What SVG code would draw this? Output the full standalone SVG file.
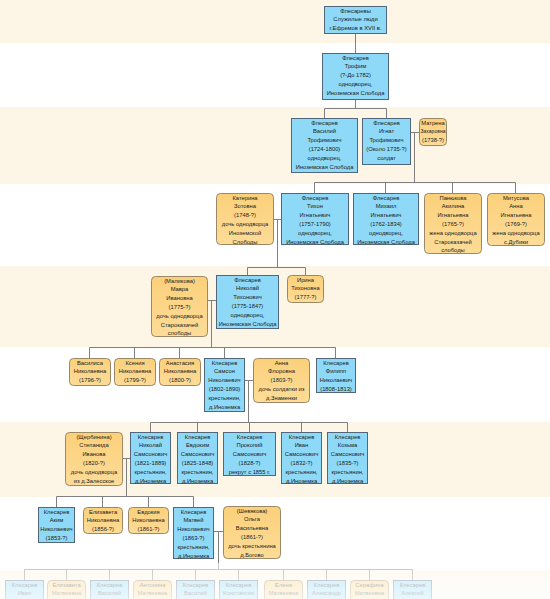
<svg xmlns="http://www.w3.org/2000/svg" width="550" height="599" viewBox="0 0 550 599">
<style>
.band{fill:#fdf5e6}
.b{fill:#8dd9f7;stroke:#52687a;stroke-width:1}
.o{fill:url(#og);stroke:#9a8866;stroke-width:1}
.t{font-family:"Liberation Sans",Arial,sans-serif;font-size:5.8px;fill:#222;text-anchor:middle}
.c{fill:none;stroke:#808080;stroke-width:1}
</style>
<defs>
<linearGradient id="og" x1="0" y1="0" x2="0" y2="1">
<stop offset="0" stop-color="#fbd07a"/>
<stop offset="1" stop-color="#fddc98"/>
</linearGradient>
<linearGradient id="fade" x1="0" y1="0" x2="0" y2="1">
<stop offset="0" stop-color="#fff" stop-opacity="0.55"/>
<stop offset="1" stop-color="#fff" stop-opacity="0.8"/>
</linearGradient>
</defs>
<rect width="550" height="599" fill="#fff"/>
<rect class="band" x="0" y="0" width="550" height="43"/>
<rect class="band" x="0" y="107" width="550" height="77"/>
<rect class="band" x="0" y="266" width="550" height="81"/>
<rect class="band" x="0" y="422" width="550" height="75"/>
<rect class="band" x="0" y="570" width="550" height="29"/>

<g id="connectors">
<path class="c" d="M355.5 33V53 M355.5 99V108.5 M324.5 108.5H386.5 M324.5 108.5V118 M386.5 108.5V118"/>
<path class="c" d="M410 132.5H419 M414.5 132.5V182.5 M314.5 182.5H515.5 M314.5 182.5V193 M385.5 182.5V193 M452.5 182.5V193 M515.5 182.5V193"/>
<path class="c" d="M273 219.5H281 M277.5 219.5V267.5 M247.5 267.5H305.5 M247.5 267.5V275 M305.5 267.5V275"/>
<path class="c" d="M207 300.5H216 M211.5 300.5V347.5 M89.5 347.5H335.5 M89.5 347.5V358 M134.5 347.5V358 M179.5 347.5V358 M224.5 347.5V358 M335.5 347.5V358"/>
<path class="c" d="M244 380.5H253 M248.5 380.5V422.5 M150.5 422.5H347.5 M150.5 422.5V432 M197.5 422.5V432 M249.5 422.5V432 M301.5 422.5V432 M347.5 422.5V432"/>
<path class="c" d="M122 458.5H130 M126.5 458.5V496.5 M56.5 496.5H193.5 M56.5 496.5V507 M102.5 496.5V507 M148.5 496.5V507 M193.5 496.5V507"/>
<path class="c" d="M213 531.5H223 M218.5 531.5V569.5 M24.5 569.5H412.5 M24.5 569.5V580 M66.5 569.5V580 M109.5 569.5V580 M152.5 569.5V580 M195.5 569.5V580 M238.5 569.5V580 M283.5 569.5V580 M326.5 569.5V580 M369.5 569.5V580 M412.5 569.5V580"/>
</g>

<g id="n1"><rect class="b" x="324.5" y="6.5" width="62" height="27"/>
<text class="t" x="355.5" y="12.5">Флесаревы</text><text class="t" x="355.5" y="21.3">Служилые люди</text><text class="t" x="355.5" y="30.1">г.Ефремов в XVII в.</text></g>

<g id="n2"><rect class="b" x="322.5" y="53.5" width="66" height="46"/>
<text class="t" x="355.5" y="59.5">Флесарев</text><text class="t" x="355.5" y="68.3">Трофим</text><text class="t" x="355.5" y="77.1">(?-До 1782)</text><text class="t" x="355.5" y="85.9">однодворец,</text><text class="t" x="355.5" y="94.7">Иноземская Слобода</text></g>

<g id="n3"><rect class="b" x="291.5" y="118.5" width="66" height="54"/>
<text class="t" x="324.5" y="124.5">Флесарев</text><text class="t" x="324.5" y="133.3">Василий</text><text class="t" x="324.5" y="142.1">Трофимович</text><text class="t" x="324.5" y="150.9">(1724-1800)</text><text class="t" x="324.5" y="159.7">однодворец,</text><text class="t" x="324.5" y="168.5">Иноземская Слобода</text></g>

<g id="n4"><rect class="b" x="362.5" y="118.5" width="48" height="46"/>
<text class="t" x="386.5" y="124.5">Флесарев</text><text class="t" x="386.5" y="133.3">Игнат</text><text class="t" x="386.5" y="142.1">Трофимович</text><text class="t" x="386.5" y="150.9">(Около 1735-?)</text><text class="t" x="386.5" y="159.7">солдат</text></g>

<g id="n5"><rect class="o" x="419.5" y="118.5" width="27" height="27" rx="4"/>
<text class="t" x="433" y="124.5">Матрена</text><text class="t" x="433" y="133.3" textLength="25" lengthAdjust="spacingAndGlyphs">Захаровна</text><text class="t" x="433" y="142.1">(1738-?)</text></g>

<g id="n6"><rect class="o" x="216.5" y="193.5" width="57" height="51" rx="4"/>
<text class="t" x="245" y="199.5">Катерина</text><text class="t" x="245" y="208.3">Зотовна</text><text class="t" x="245" y="217.1">(1748-?)</text><text class="t" x="245" y="225.9">дочь однодворца</text><text class="t" x="245" y="234.7">Иноземской</text><text class="t" x="245" y="243.5">Слободы</text></g>

<g id="n7"><rect class="b" x="281.5" y="193.5" width="67" height="51"/>
<text class="t" x="315" y="199.5">Флесарев</text><text class="t" x="315" y="208.3">Тихон</text><text class="t" x="315" y="217.1">Игнатьевич</text><text class="t" x="315" y="225.9">(1757-1790)</text><text class="t" x="315" y="234.7">однодворец,</text><text class="t" x="315" y="243.5">Иноземская Слобода</text></g>

<g id="n8"><rect class="b" x="353.5" y="193.5" width="65" height="51"/>
<text class="t" x="386" y="199.5">Флесарев</text><text class="t" x="386" y="208.3">Михаил</text><text class="t" x="386" y="217.1">Игнатьевич</text><text class="t" x="386" y="225.9">(1762-1834)</text><text class="t" x="386" y="234.7">однодворец,</text><text class="t" x="386" y="243.5">Иноземская Слобода</text></g>

<g id="n9"><rect class="o" x="424.5" y="193.5" width="57" height="60" rx="4"/>
<text class="t" x="453" y="199.5">Панюкова</text><text class="t" x="453" y="208.3">Акилина</text><text class="t" x="453" y="217.1">Игнатьевна</text><text class="t" x="453" y="225.9">(1765-?)</text><text class="t" x="453" y="234.7">жена однодворца</text><text class="t" x="453" y="243.5">Староказачей</text><text class="t" x="453" y="252.3">слободы</text></g>

<g id="n10"><rect class="o" x="487.5" y="193.5" width="57" height="52" rx="4"/>
<text class="t" x="516" y="199.5">Митусова</text><text class="t" x="516" y="208.3">Анна</text><text class="t" x="516" y="217.1">Игнатьевна</text><text class="t" x="516" y="225.9">(1769-?)</text><text class="t" x="516" y="234.7">жена однодворца</text><text class="t" x="516" y="243.5">с.Дубики</text></g>

<g id="n11"><rect class="o" x="151.5" y="276.5" width="56" height="60" rx="4"/>
<text class="t" x="179.5" y="282.5">(Маликова)</text><text class="t" x="179.5" y="291.3">Мавра</text><text class="t" x="179.5" y="300.1">Ивановна</text><text class="t" x="179.5" y="308.9">(1775-?)</text><text class="t" x="179.5" y="317.7">дочь однодворца</text><text class="t" x="179.5" y="326.5">Староказачей</text><text class="t" x="179.5" y="335.3">слободы</text></g>

<g id="n12"><rect class="b" x="216.5" y="275.5" width="62" height="53"/>
<text class="t" x="247.5" y="281.5">Флесарев</text><text class="t" x="247.5" y="290.3">Николай</text><text class="t" x="247.5" y="299.1">Тихонович</text><text class="t" x="247.5" y="307.9">(1775-1847)</text><text class="t" x="247.5" y="316.7">однодворец,</text><text class="t" x="247.5" y="325.5">Иноземская Слобода</text></g>

<g id="n13"><rect class="o" x="287.5" y="275.5" width="36" height="27" rx="4"/>
<text class="t" x="305.5" y="281.5">Ирина</text><text class="t" x="305.5" y="290.3">Тихоновна</text><text class="t" x="305.5" y="299.1">(1777-?)</text></g>

<g id="n14"><rect class="o" x="69.5" y="358.5" width="41" height="27" rx="4"/>
<text class="t" x="90" y="364.5">Василиса</text><text class="t" x="90" y="373.3">Николаевна</text><text class="t" x="90" y="382.1">(1796-?)</text></g>

<g id="n15"><rect class="o" x="114.5" y="358.5" width="41" height="27" rx="4"/>
<text class="t" x="135" y="364.5">Ксения</text><text class="t" x="135" y="373.3">Николаевна</text><text class="t" x="135" y="382.1">(1799-?)</text></g>

<g id="n16"><rect class="o" x="159.5" y="358.5" width="41" height="27" rx="4"/>
<text class="t" x="180" y="364.5">Анастасия</text><text class="t" x="180" y="373.3">Николаевна</text><text class="t" x="180" y="382.1">(1800-?)</text></g>

<g id="n17"><rect class="b" x="204.5" y="358.5" width="40" height="53"/>
<text class="t" x="224.5" y="364.5">Клесарев</text><text class="t" x="224.5" y="373.3">Самсон</text><text class="t" x="224.5" y="382.1">Николаевич</text><text class="t" x="224.5" y="390.9">(1802-1890)</text><text class="t" x="224.5" y="399.7">крестьянин,</text><text class="t" x="224.5" y="408.5">д.Иноземка</text></g>

<g id="n18"><rect class="o" x="253.5" y="358.5" width="56" height="44" rx="4"/>
<text class="t" x="281.5" y="364.5">Анна</text><text class="t" x="281.5" y="373.3">Флоровна</text><text class="t" x="281.5" y="382.1">(1803-?)</text><text class="t" x="281.5" y="390.9">дочь солдатки из</text><text class="t" x="281.5" y="399.7">д.Знаменки</text></g>

<g id="n19"><rect class="b" x="316.5" y="358.5" width="39" height="34"/>
<text class="t" x="336" y="364.5">Клесарев</text><text class="t" x="336" y="373.3">Филипп</text><text class="t" x="336" y="382.1">Николаевич</text><text class="t" x="336" y="390.9">(1808-1813)</text></g>

<g id="n20"><rect class="o" x="65.5" y="432.5" width="57" height="53" rx="4"/>
<text class="t" x="94" y="438.5">(Щербинина)</text><text class="t" x="94" y="447.3">Степанида</text><text class="t" x="94" y="456.1">Иванова</text><text class="t" x="94" y="464.9">(1820-?)</text><text class="t" x="94" y="473.7">дочь однодворца</text><text class="t" x="94" y="482.5">из д.Залесское</text></g>

<g id="n21"><rect class="b" x="130.5" y="432.5" width="40" height="51"/>
<text class="t" x="150.5" y="438.5">Клесарев</text><text class="t" x="150.5" y="447.3">Николай</text><text class="t" x="150.5" y="456.1">Самсонович</text><text class="t" x="150.5" y="464.9">(1821-1889)</text><text class="t" x="150.5" y="473.7">крестьянин,</text><text class="t" x="150.5" y="482.5">д.Иноземка</text></g>

<g id="n22"><rect class="b" x="177.5" y="432.5" width="40" height="51"/>
<text class="t" x="197.5" y="438.5">Клесарев</text><text class="t" x="197.5" y="447.3">Евдоким</text><text class="t" x="197.5" y="456.1">Самсонович</text><text class="t" x="197.5" y="464.9">(1825-1848)</text><text class="t" x="197.5" y="473.7">крестьянин,</text><text class="t" x="197.5" y="482.5">д.Иноземка</text></g>

<g id="n23"><rect class="b" x="223.5" y="432.5" width="52" height="43"/>
<text class="t" x="249.5" y="438.5">Клесарев</text><text class="t" x="249.5" y="447.3">Прокопий</text><text class="t" x="249.5" y="456.1">Самсонович</text><text class="t" x="249.5" y="464.9">(1828-?)</text><text class="t" x="249.5" y="473.7">рекрут с 1855 г.</text></g>

<g id="n24"><rect class="b" x="281.5" y="432.5" width="40" height="51"/>
<text class="t" x="301.5" y="438.5">Клесарев</text><text class="t" x="301.5" y="447.3">Иван</text><text class="t" x="301.5" y="456.1">Самсонович</text><text class="t" x="301.5" y="464.9">(1832-?)</text><text class="t" x="301.5" y="473.7">крестьянин,</text><text class="t" x="301.5" y="482.5">д.Иноземка</text></g>

<g id="n25"><rect class="b" x="327.5" y="432.5" width="40" height="51"/>
<text class="t" x="347.5" y="438.5">Клесарев</text><text class="t" x="347.5" y="447.3">Козьма</text><text class="t" x="347.5" y="456.1">Самсонович</text><text class="t" x="347.5" y="464.9">(1835-?)</text><text class="t" x="347.5" y="473.7">крестьянин,</text><text class="t" x="347.5" y="482.5">д.Иноземка</text></g>

<g id="n26"><rect class="b" x="38.5" y="507.5" width="36" height="35"/>
<text class="t" x="56.5" y="513.5">Клесарев</text><text class="t" x="56.5" y="522.3">Аким</text><text class="t" x="56.5" y="531.1">Николаевич</text><text class="t" x="56.5" y="539.9">(1853-?)</text></g>

<g id="n27"><rect class="o" x="83.5" y="507.5" width="39" height="26" rx="4"/>
<text class="t" x="103" y="513.5">Елизавета</text><text class="t" x="103" y="522.3">Николаевна</text><text class="t" x="103" y="531.1">(1856-?)</text></g>

<g id="n28"><rect class="o" x="128.5" y="507.5" width="40" height="26" rx="4"/>
<text class="t" x="148.5" y="513.5">Евдокия</text><text class="t" x="148.5" y="522.3">Николаевна</text><text class="t" x="148.5" y="531.1">(1861-?)</text></g>

<g id="n29"><rect class="b" x="173.5" y="507.5" width="40" height="51"/>
<text class="t" x="193.5" y="513.5">Клесарев</text><text class="t" x="193.5" y="522.3">Матвей</text><text class="t" x="193.5" y="531.1">Николаевич</text><text class="t" x="193.5" y="539.9">(1863-?)</text><text class="t" x="193.5" y="548.7">крестьянин,</text><text class="t" x="193.5" y="557.5">д.Иноземка</text></g>

<g id="n30"><rect class="o" x="223.5" y="506.5" width="57" height="52" rx="4"/>
<text class="t" x="252" y="512.5">(Шевякова)</text><text class="t" x="252" y="521.3">Ольга</text><text class="t" x="252" y="530.1">Васильевна</text><text class="t" x="252" y="538.9">(1861-?)</text><text class="t" x="252" y="547.7">дочь крестьянина</text><text class="t" x="252" y="556.5">д.Богово</text></g>

<g id="n31"><rect class="b" x="5.5" y="580.5" width="38" height="27"/><text class="t" x="24.5" y="586.5">Клесарев</text><text class="t" x="24.5" y="595.3">Иван</text></g>
<g id="n32"><rect class="o" x="47.5" y="580.5" width="38" height="27" rx="4"/><text class="t" x="66.5" y="586.5">Елизавета</text><text class="t" x="66.5" y="595.3">Матвеевна</text></g>
<g id="n33"><rect class="b" x="90.5" y="580.5" width="38" height="27"/><text class="t" x="109.5" y="586.5">Клесарев</text><text class="t" x="109.5" y="595.3">Василий</text></g>
<g id="n34"><rect class="o" x="133.5" y="580.5" width="38" height="27" rx="4"/><text class="t" x="152.5" y="586.5">Антонина</text><text class="t" x="152.5" y="595.3">Матвеевна</text></g>
<g id="n35"><rect class="b" x="176.5" y="580.5" width="38" height="27"/><text class="t" x="195.5" y="586.5">Клесарев</text><text class="t" x="195.5" y="595.3">Василий</text></g>
<g id="n36"><rect class="b" x="219.5" y="580.5" width="38" height="27"/><text class="t" x="238.5" y="586.5">Клесарев</text><text class="t" x="238.5" y="595.3">Константин</text></g>
<g id="n37"><rect class="o" x="264.5" y="580.5" width="38" height="27" rx="4"/><text class="t" x="283.5" y="586.5">Елена</text><text class="t" x="283.5" y="595.3">Матвеевна</text></g>
<g id="n38"><rect class="b" x="307.5" y="580.5" width="38" height="27"/><text class="t" x="326.5" y="586.5">Клесарев</text><text class="t" x="326.5" y="595.3">Александр</text></g>
<g id="n39"><rect class="o" x="350.5" y="580.5" width="38" height="27" rx="4"/><text class="t" x="369.5" y="586.5">Серафина</text><text class="t" x="369.5" y="595.3">Матвеевна</text></g>
<g id="n40"><rect class="b" x="393.5" y="580.5" width="38" height="27"/><text class="t" x="412.5" y="586.5">Клесарев</text><text class="t" x="412.5" y="595.3">Алексей</text></g>

<rect x="0" y="563" width="550" height="36" fill="url(#fade)"/>
</svg>
